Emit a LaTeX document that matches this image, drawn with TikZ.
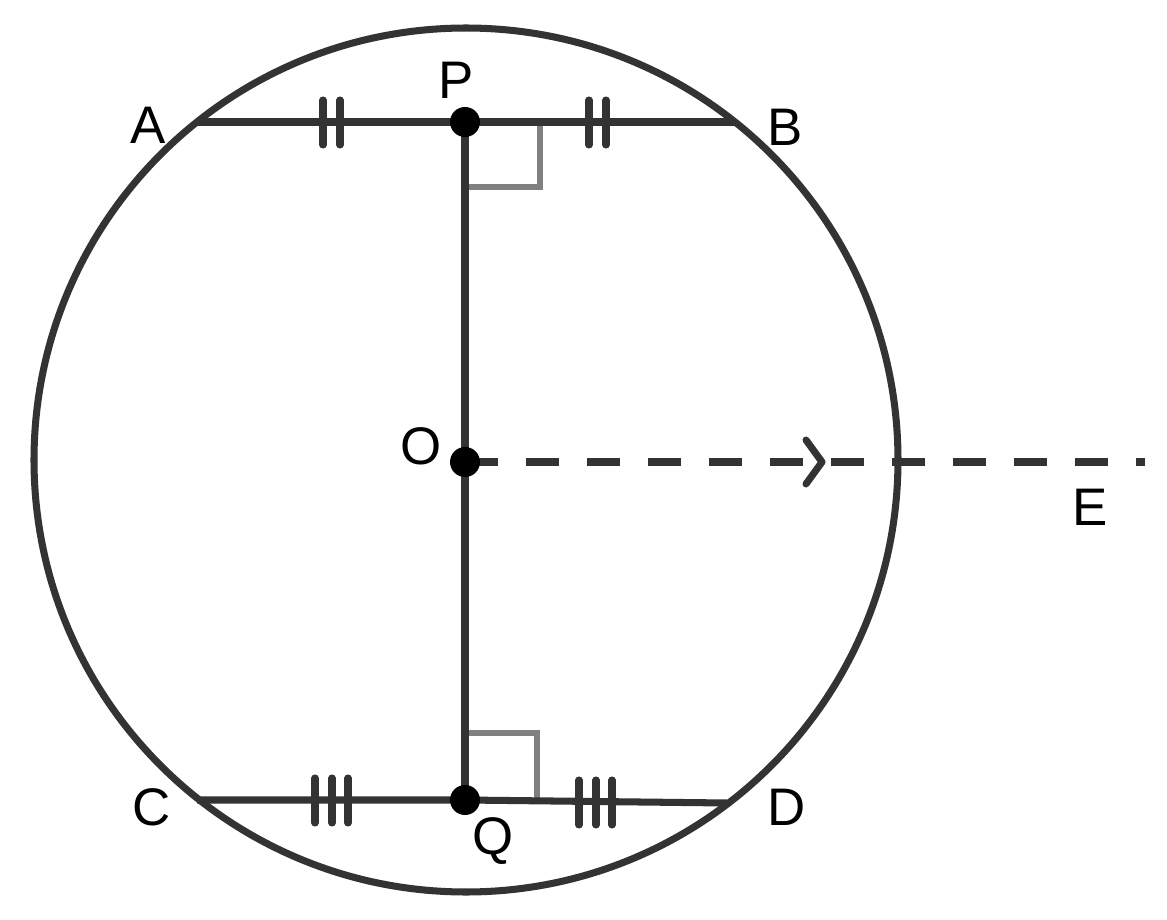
\documentclass[tikz,border=0pt]{standalone}
\usepackage{fontspec}
\setmainfont{Liberation Sans}
\definecolor{ink}{HTML}{333333}
\definecolor{marker}{HTML}{808080}
\tikzset{
  line/.style={draw=ink, line width=5pt},
  tick/.style={draw=ink, line width=5pt, line cap=round},
  rightangle/.style={draw=marker, line width=4.3pt},
  dot/.style={fill=black, circle, inner sep=0pt, minimum size=0.75cm},
  lbl/.style={font=\fontsize{37.6}{45}\selectfont, inner sep=0pt}
}
\begin{document}
\begin{tikzpicture}[x=0.025cm, y=-0.025cm]
  \useasboundingbox (0,0) rectangle (1167,920);

  % points
  \coordinate (center) at (466,460);
  \coordinate (A) at (197,122);
  \coordinate (B) at (735,122);
  \coordinate (C) at (197,800);
  \coordinate (D) at (727,803);
  \coordinate (P) at (465,122);
  \coordinate (O) at (465,462);
  \coordinate (Q) at (465,800);
  \coordinate (E end) at (1145,462);

  % circle
  \draw[line] (center) circle (432);

  % right angles
  \draw[rightangle] (465,187) -- (540,187) -- (540,122);
  \draw[rightangle] (465,733) -- (537,733) -- (537,801);

  % chords
  \draw[line] (A) -- (B);
  \draw[line] (C) -- (Q) -- (D);
  \draw[line] (P) -- (Q);

  % dashed line OE
  \draw[line, dash pattern=on 0.825cm off 0.7cm] (O) -- (E end);
  \draw[tick, line join=round] (806,440) -- (822,462) -- (806,484);

  % equal marks
  \foreach \x in {323,340,589,606}
    \draw[tick] (\x,100) -- (\x,145);
  \foreach \x in {315,332,348}
    \draw[tick] (\x,778) -- (\x,823);
  \foreach \x in {579,596,612}
    \draw[tick] (\x,780) -- (\x,825);

  % dots
  \node[dot] (P dot) at (P) {};
  \node[dot] (O dot) at (O) {};
  \node[dot] (Q dot) at (Q) {};

  % labels
  \node[lbl] (A label) at (148,125) {A};
  \node[lbl] (B label) at (785,127) {B};
  \node[lbl] (C label) at (152,807) {C};
  \node[lbl] (D label) at (787,807) {D};
  \node[lbl] (P label) at (456,80) {P};
  \node[lbl] (O label) at (421,446) {O};
  \node[lbl] (Q label) at (493,841) {Q};
  \node[lbl] (E label) at (1090,507) {E};
\end{tikzpicture}
\end{document}
